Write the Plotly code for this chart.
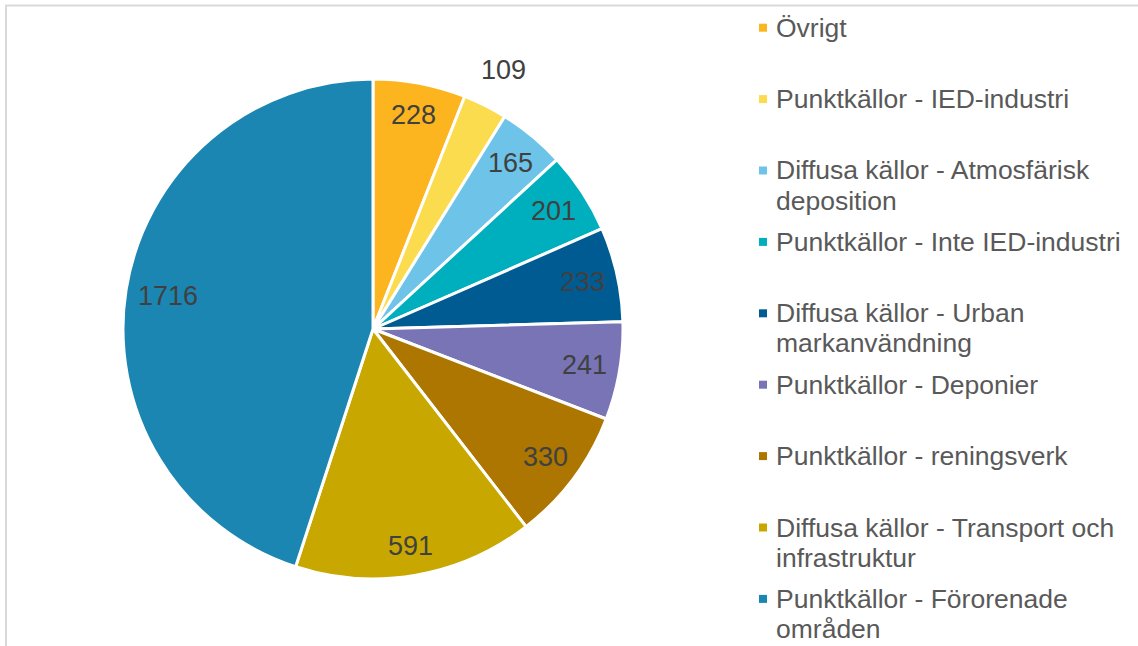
import numpy as np
import plotly.graph_objects as go

# ---- data ----
legend_lines = [
    ["Övrigt"],
    ["Punktkällor - IED-industri"],
    ["Diffusa källor - Atmosfärisk", "deposition"],
    ["Punktkällor - Inte IED-industri"],
    ["Diffusa källor - Urban", "markanvändning"],
    ["Punktkällor - Deponier"],
    ["Punktkällor - reningsverk"],
    ["Diffusa källor - Transport och", "infrastruktur"],
    ["Punktkällor - Förorenade", "områden"],
]
categories = [" ".join(l) for l in legend_lines]
values = [228, 109, 165, 201, 233, 241, 330, 591, 1716]
colors = ["#FCB51E", "#FCDC4F", "#6DC4E8", "#00AFBD", "#005B93",
          "#7874B6", "#AC7600", "#C8A800", "#1C86B3"]
label_radius = [0.87, 1.16, 0.86, 0.86, 0.86, 0.86, 0.86, 0.88, 0.83]

# ---- layout constants (pixels) ----
W, H = 1138, 646
cx, cy, R = 373, 329, 250
FONT = "Liberation Sans, Arial, sans-serif"
FS_LEG = 26.5
FS_LAB = 27

def px(x):
    return x / W

def py(y):
    return 1 - y / H

fig = go.Figure()
fig.add_trace(go.Pie(
    labels=categories, values=values, sort=False, direction="clockwise",
    rotation=0, textinfo="none", showlegend=False,
    marker=dict(colors=colors, line=dict(color="white", width=3)),
    domain=dict(x=[px(cx - R), px(cx + R)], y=[py(cy + R), py(cy - R)]),
    hoverinfo="label+value",
))

annotations = []
shapes = []

# value labels, positioned at slice mid-angles
vals = np.array(values, dtype=float)
cum = np.cumsum(vals) - vals / 2
theta = cum / vals.sum() * 2 * np.pi
for v, t, f in zip(values, theta, label_radius):
    lx = cx + R * f * np.sin(t)
    ly = cy - R * f * np.cos(t)
    annotations.append(dict(
        x=px(lx), y=py(ly), xref="paper", yref="paper",
        text=str(v), showarrow=False, xanchor="center", yanchor="middle",
        font=dict(family=FONT, size=FS_LAB, color="#404040"),
    ))

# custom legend
base0, step, line_gap = 37, 71.4, 30
for i, (lines, col) in enumerate(zip(legend_lines, colors)):
    base = base0 + step * i
    mid = base - 9.3
    shapes.append(dict(type="rect", xref="paper", yref="paper",
                       x0=px(759), x1=px(767), y0=py(mid + 4), y1=py(mid - 4),
                       fillcolor=col, line=dict(width=0)))
    for j, txt in enumerate(lines):
        annotations.append(dict(
            x=px(774), y=py(mid + j * line_gap), xref="paper", yref="paper",
            text=txt, showarrow=False, xanchor="left", yanchor="middle",
            font=dict(family=FONT, size=FS_LEG, color="#595959"),
        ))

# chart frame
shapes.append(dict(type="rect", xref="paper", yref="paper",
                   x0=px(6), x1=1.02, y0=-0.02, y1=py(5.5),
                   line=dict(color="#D9D9D9", width=2), fillcolor="rgba(0,0,0,0)",
                   layer="below"))

fig.update_layout(
    width=W, height=H, margin=dict(l=0, r=0, t=0, b=0),
    paper_bgcolor="white", plot_bgcolor="white",
    annotations=annotations, shapes=shapes, showlegend=False,
    font=dict(family=FONT),
)
fig.write_html("out.html", config={"displayModeBar": False},
               post_script="document.body.style.margin='0';document.body.style.overflow='hidden';")
